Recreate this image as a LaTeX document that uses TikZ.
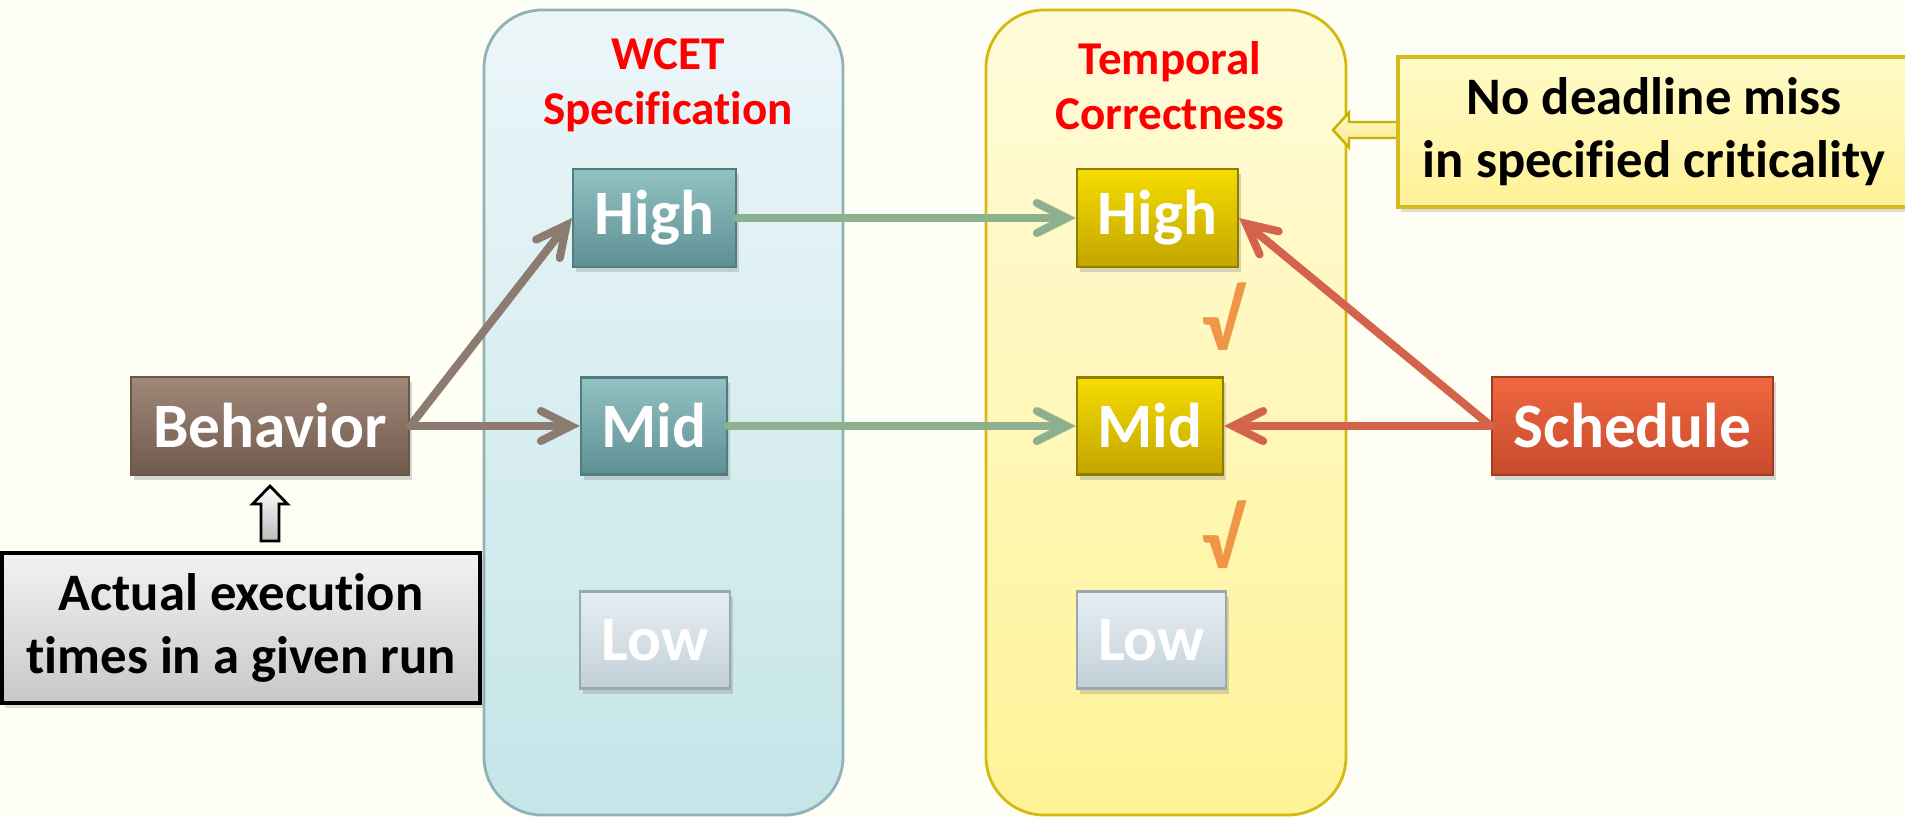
\documentclass[tikz,border=0pt]{standalone}
\usepackage{fontspec}
\setmainfont{Carlito}[Ligatures=NoCommon]
\usetikzlibrary{arrows.meta,shadows,calc}

\definecolor{bgcream}{RGB}{254,254,245}
\definecolor{titlered}{RGB}{255,0,0}
\definecolor{linkbrown}{RGB}{140,123,112}
\definecolor{linkgreen}{RGB}{141,176,143}
\definecolor{linkred}{RGB}{212,99,75}
\definecolor{checkorange}{RGB}{240,150,70}
% box colours: border, top, bottom
\definecolor{tealDraw}{RGB}{79,125,128}
\definecolor{tealTop}{RGB}{147,194,196}
\definecolor{tealBot}{RGB}{94,143,146}
\definecolor{goldDraw}{RGB}{143,126,0}
\definecolor{goldTop}{RGB}{245,220,0}
\definecolor{goldBot}{RGB}{194,165,0}
\definecolor{lowDraw}{RGB}{154,168,176}
\definecolor{lowTop}{RGB}{230,238,243}
\definecolor{lowBot}{RGB}{195,208,216}
\definecolor{brownDraw}{RGB}{107,87,72}
\definecolor{brownTop}{RGB}{160,136,120}
\definecolor{brownBot}{RGB}{111,90,76}
\definecolor{redDraw}{RGB}{160,60,34}
\definecolor{redTop}{RGB}{240,104,64}
\definecolor{redBot}{RGB}{200,74,44}
\definecolor{specDraw}{RGB}{143,179,181}
\definecolor{specTop}{RGB}{236,246,249}
\definecolor{specBot}{RGB}{197,229,232}
\definecolor{corrDraw}{RGB}{212,186,16}
\definecolor{corrTop}{RGB}{255,251,218}
\definecolor{corrBot}{RGB}{255,243,151}
\definecolor{noteDraw}{RGB}{212,188,32}
\definecolor{noteTop}{RGB}{255,251,200}
\definecolor{noteBot}{RGB}{255,241,150}
\definecolor{tipDraw}{RGB}{200,176,0}
\definecolor{tipTop}{RGB}{255,251,208}
\definecolor{tipBot}{RGB}{245,232,128}
\definecolor{grayTop}{RGB}{242,242,242}
\definecolor{grayBot}{RGB}{200,200,200}
\definecolor{upBot}{RGB}{187,187,187}

\tikzset{
  lvlbox/.style={draw=#1Draw, top color=#1Top, bottom color=#1Bot,
    line width=0.6pt, inner sep=0pt, text=white,
    font=\fontsize{18}{21.6}\selectfont\bfseries,
    drop shadow={shadow xshift=0.03cm, shadow yshift=-0.05cm, opacity=0.3}},
  notebox/.style={inner sep=0pt, align=center,
    font=\fontsize{15}{17.9}\selectfont\bfseries,
    drop shadow={shadow xshift=0.03cm, shadow yshift=-0.05cm, opacity=0.25}},
  link/.style={line width=2.3pt, line cap=round, draw=#1,
    -{Straight Barb[length=0.30cm, width=0.30cm, line cap=round]}},
  paneltitle/.style={text=titlered, align=center,
    font=\fontsize{13.4}{15.6}\selectfont\bfseries},
  checkmark/.style={text=checkorange, font=\fontsize{24}{28}\selectfont\bfseries}
}

\begin{document}
\begin{tikzpicture}

\fill[bgcream] (0,0) rectangle (19.05,-8.19);
\useasboundingbox (0,0) rectangle (19.05,-8.19);

%% the two panels
\draw[rounded corners=0.58cm, draw=specDraw, line width=0.8pt,
  top color=specTop, bottom color=specBot] (4.84,-0.10) rectangle (8.43,-8.15);
\draw[rounded corners=0.58cm, draw=corrDraw, line width=0.8pt,
  top color=corrTop, bottom color=corrBot] (9.86,-0.10) rectangle (13.46,-8.15);

\node[paneltitle] (wcet) at (6.68,-0.85) {WCET\\Specification};
\node[paneltitle] (temporal) at (11.70,-0.86) {Temporal\\Correctness};

%% levels of the specification
\node[lvlbox=teal, minimum width=1.63cm, minimum height=0.98cm] (specHigh) at (6.545,-2.18) {High};
\node[lvlbox=teal, minimum width=1.46cm, minimum height=0.97cm] (specMid) at (6.54,-4.26) {Mid};
\node[lvlbox=low, minimum width=1.50cm, minimum height=0.97cm] (specLow) at (6.55,-6.40) {Low};

%% levels of the correctness
\node[lvlbox=gold, minimum width=1.61cm, minimum height=0.98cm] (corrHigh) at (11.575,-2.18) {High};
\node[lvlbox=gold, minimum width=1.46cm, minimum height=0.97cm] (corrMid) at (11.50,-4.26) {Mid};
\node[lvlbox=low, minimum width=1.49cm, minimum height=0.97cm] (corrLow) at (11.515,-6.40) {Low};

%% the checks
\node[checkmark] (checkA) at (12.22,-3.17) {√};
\node[checkmark] (checkB) at (12.22,-5.35) {√};

%% behavior and schedule
\node[lvlbox=brown, minimum width=2.78cm, minimum height=0.98cm] (behavior) at (2.70,-4.26) {Behavior};
\node[lvlbox=red, minimum width=2.81cm, minimum height=0.98cm] (schedule) at (16.325,-4.26) {Schedule};

%% the notes
\node[notebox, draw=black, line width=1pt, minimum width=4.78cm, minimum height=1.50cm,
  top color=grayTop, bottom color=grayBot]
  (actual) at (2.41,-6.28) {Actual execution\\times in a given run};

%% the arrow from the deadline note
\coordinate (dlTip) at (13.33,-1.30);
\draw[draw=tipDraw, line width=0.7pt, top color=tipTop, bottom color=tipBot]
  (dlTip) -- ++(0.16,0.175) -- ++(0,-0.095) -- ++(0.55,0) -- ++(0,-0.16) -- ++(-0.55,0)
  -- ++(0,-0.095) -- cycle;

\node[notebox, draw=noteDraw, line width=1pt, minimum width=5.12cm, minimum height=1.50cm,
  top color=noteTop, bottom color=noteBot]
  (deadline) at (16.54,-1.32) {No deadline miss\\in specified criticality};

%% the arrow to behavior
\coordinate (upTip) at ($(behavior.south)+(0,-0.10)$);
\draw[draw=black, line width=0.8pt, top color=white, bottom color=upBot]
  (upTip) -- ++(0.175,-0.18) -- ++(-0.085,0) -- ++(0,-0.37) -- ++(-0.18,0) -- ++(0,0.37)
  -- ++(-0.085,0) -- cycle;

%% the links
\draw[link=linkbrown] (behavior.east) -- (specHigh.west);
\draw[link=linkbrown] (behavior.east) -- (specMid.west);
\draw[link=linkgreen] (specHigh.east) -- (corrHigh.west);
\draw[link=linkgreen] (specMid.east) -- (corrMid.west);
\draw[link=linkred] (schedule.west) -- (corrHigh.east);
\draw[link=linkred] (schedule.west) -- (corrMid.east);

\end{tikzpicture}
\end{document}
